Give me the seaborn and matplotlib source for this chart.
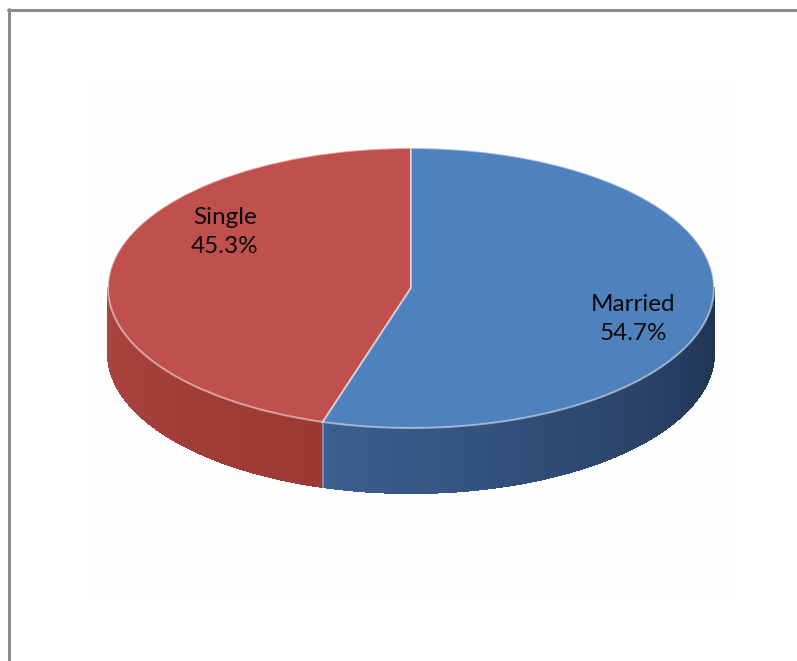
import numpy as np
import matplotlib
matplotlib.use("Agg")
import matplotlib.pyplot as plt
import seaborn as sns
from matplotlib.patches import Polygon, Rectangle
from matplotlib.lines import Line2D
from matplotlib.colors import to_rgb

# ---- data ----
categories = ["Single", "Married"]
values = [45.3, 54.7]
top_colors = ["#C0504D", "#4F81BD"]
# side shading: (color at start of visible side, color at end)
side_colors = [("#AA4440", "#9C3935"), ("#3C5F90", "#1E3150")]

sns.set_theme(style="white")
plt.rcParams["font.family"] = ["Lato", "DejaVu Sans"]

W, H = 797, 661
fig = plt.figure(figsize=(W / 100, H / 100), dpi=100)
fig.patch.set_facecolor("white")

# faint plot area
fig.add_artist(Rectangle((90 / W, 1 - 597 / H), (735 - 90) / W, (597 - 82) / H,
                         transform=fig.transFigure, facecolor="#FEFEFE",
                         edgecolor="none", zorder=0))
# frame lines (left and top only)
fig.add_artist(Line2D([8.5 / W, 8.5 / W], [0, 1 - 9 / H], transform=fig.transFigure,
                      color="#8A8A8A", lw=2.2))
fig.add_artist(Line2D([8 / W, 1], [1 - 9.5 / H, 1 - 9.5 / H], transform=fig.transFigure,
                      color="#8A8A8A", lw=2.2))

ax = fig.add_axes([0, 0, 1, 1])
ax.patch.set_alpha(0)

# ellipse geometry (pixels)
cx, cy, rx, ry, depth = 411, 288, 303, 140, 65
d = depth / ry

# side walls
start = 90.0
angles = []
for v in values:
    span = 360.0 * v / sum(values)
    angles.append((start, start + span))
    start += span

for (a0, a1), (c0, c1) in zip(angles, side_colors):
    lo, hi = max(a0, 180.0), min(a1, 360.0)
    if hi <= lo:
        continue
    n = int((hi - lo) * 2) + 2
    ts = np.linspace(lo, hi, n)
    c0r, c1r = np.array(to_rgb(c0)), np.array(to_rgb(c1))
    for i in range(n - 1):
        t = np.radians(np.linspace(ts[i], ts[i + 1], 3))
        f = (ts[i] - lo) / (hi - lo)
        col = c0r * (1 - f) + c1r * f
        xs = np.cos(t)
        ys = np.sin(t)
        pts = np.concatenate([np.column_stack([xs, ys]),
                              np.column_stack([xs[::-1], ys[::-1] - d])])
        ax.add_patch(Polygon(pts, closed=True, facecolor=col, edgecolor=col,
                             lw=0.8, antialiased=False, zorder=1))

# highlight on the wedge boundary edge in the side
b = np.radians(angles[0][1])
ax.plot([np.cos(b), np.cos(b)], [np.sin(b), np.sin(b) - d], color="#C9A6A8",
        lw=1.2, alpha=0.7, zorder=2)

wedges, _ = ax.pie(values, colors=top_colors, startangle=90, counterclock=True,
                   radius=1, center=(0, 0),
                   wedgeprops=dict(edgecolor=(1, 1, 1, 0.5), linewidth=1.4))
for w in wedges:
    w.set_zorder(3)

ax.set_aspect("auto")
ax.set_xlim(-cx / rx, (W - cx) / rx)
ax.set_ylim(-(H - cy) / ry, cy / ry)
ax.axis("off")

label_pos = [(225, 232), (633, 319)]
for cat, v, (px, py) in zip(categories, values, label_pos):
    ax.text((px - cx) / rx, (cy - py) / ry, f"{cat}\n{v:.1f}%",
            ha="center", va="center", fontsize=17.5, color="#0A0A0A",
            linespacing=1.5, zorder=5)

fig.savefig("out.png", dpi=100)
